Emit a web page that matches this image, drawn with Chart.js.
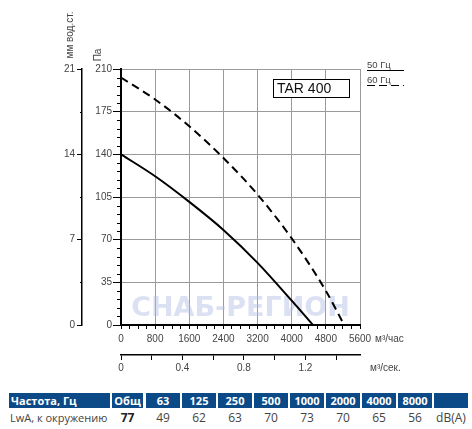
<!DOCTYPE html>
<html>
<head>
<meta charset="utf-8">
<script src="https://cdn.jsdelivr.net/npm/chart.js@4/dist/chart.umd.min.js"></script>
<style>
  body { margin: 0; background: #fff; width: 472px; height: 429px; overflow: hidden; position: relative; }
  .wrap { position: absolute; left: 0; top: 0; width: 472px; height: 385px; }
  .cell { position: absolute; font-family: "Open Sans", sans-serif; white-space: nowrap; text-align: center; }
  .head { top: 393px; height: 15px; line-height: 15px; background: #0b4a86; color: #fff; font-weight: 700; font-size: 11px; }
  .val { top: 408px; height: 19px; line-height: 19px; color: #444; font-size: 12px; }
  .first { text-align: left; padding-left: 2px; box-sizing: border-box; }
  .val.first { font-size: 11px; padding-left: 1px; }
  .total { font-weight: 700; color: #222; }
</style>
</head>
<body>
<div class="wrap"><canvas id="chart" width="472" height="385"></canvas></div>
<div id="noise"></div>
<script>
// fan curves, m3/h -> Pa
const flow50 = [0, 800, 1600, 2400, 3200, 4000, 4500];
const pressure50 = [140, 122, 101, 78, 51, 20, 0];
const flow60 = [0, 800, 1600, 2400, 3200, 4000, 4800, 5230];
const pressure60 = [203, 185, 163, 137, 107, 71, 28, 0];

// axis ranges
const flowMax = 5600;
const flowStep = 800;
const paMax = 210;
const paStep = 35;
const mmMax = 21;
const mmStep = 7;

// sound table
const freqLabels = ["Общ", "63", "125", "250", "500", "1000", "2000", "4000", "8000"];
const soundLevels = [77, 49, 62, 63, 70, 73, 70, 65, 56];
const colWidths = [101, 31, 34, 34, 34, 34, 34, 34, 34, 34, 34];
const colGaps = [0, 2, 3, 2, 2, 2, 2, 2, 2, 2, 2];

const tickFont = { family: "'Liberation Sans', Arial, sans-serif", size: 10 };
const textColor = "#444";

const toPoints = (xs, ys) => xs.map((x, i) => ({ x: x, y: ys[i] }));

const extras = {
  id: "extras",
  beforeDatasetsDraw(chart) {
    const { ctx, chartArea } = chart;
    ctx.save();
    ctx.fillStyle = "rgba(175,188,228,0.45)";
    ctx.font = "bold 27px 'DejaVu Sans', sans-serif";
    ctx.textAlign = "center";
    ctx.textBaseline = "middle";
    ctx.fillText("СНАБ-РЕГИОН", (chartArea.left + chartArea.right) / 2, 309);
    ctx.restore();
  },
  afterDraw(chart) {
    const { ctx, chartArea } = chart;
    const y = chart.scales.y, y2 = chart.scales.y2;
    ctx.save();
    ctx.strokeStyle = "#000";
    ctx.lineWidth = 1;
    // minor ticks Pa
    for (let v = 7; v < paMax; v += 7) {
      if (v % paStep === 0) continue;
      const py = Math.round(y.getPixelForValue(v)) + 0.5;
      ctx.beginPath();
      ctx.moveTo(chartArea.left - 4, py);
      ctx.lineTo(chartArea.left, py);
      ctx.stroke();
    }
    // minor ticks mm
    for (let v = 3.5; v < mmMax; v += 7) {
      const py = Math.round(y2.getPixelForValue(v)) + 0.5;
      ctx.beginPath();
      ctx.moveTo(y2.right - 2, py);
      ctx.lineTo(y2.right, py);
      ctx.stroke();
    }

    ctx.fillStyle = textColor;
    ctx.font = "10px 'Liberation Sans', Arial, sans-serif";
    // rotated axis titles
    ctx.save();
    ctx.translate(70, 35);
    ctx.rotate(-Math.PI / 2);
    ctx.textAlign = "center";
    ctx.textBaseline = "middle";
    ctx.fillText("мм вод.ст.", 0, 0);
    ctx.restore();
    ctx.save();
    ctx.translate(98, 55);
    ctx.rotate(-Math.PI / 2);
    ctx.textAlign = "center";
    ctx.textBaseline = "middle";
    ctx.fillText("Па", 0, 0);
    ctx.restore();

    // units on the flow axes
    ctx.textAlign = "left";
    ctx.textBaseline = "middle";
    ctx.fillText("м³/час", 375, 339);
    ctx.fillText("м³/сек.", 370, 368);

    // legend
    ctx.font = "9.5px 'Liberation Sans', Arial, sans-serif";
    ctx.fillText("50 Гц", 367, 65);
    ctx.fillText("60 Гц", 367, 80);
    ctx.lineWidth = 1;
    ctx.beginPath();
    ctx.moveTo(367, 70.5);
    ctx.lineTo(404, 70.5);
    ctx.stroke();
    ctx.setLineDash([8, 4]);
    ctx.beginPath();
    ctx.moveTo(367, 85.5);
    ctx.lineTo(404, 85.5);
    ctx.stroke();
    ctx.setLineDash([]);

    // model label
    ctx.fillStyle = "#fff";
    ctx.fillRect(273, 79, 76, 18);
    ctx.strokeRect(273.5, 79.5, 76, 18);
    ctx.fillStyle = "#111";
    ctx.font = "14px 'Liberation Sans', Arial, sans-serif";
    ctx.fillText("TAR 400", 277, 89);
    ctx.restore();
  }
};

new Chart(document.getElementById("chart"), {
  type: "line",
  data: {
    datasets: [
      {
        label: "50 Гц",
        data: toPoints(flow50, pressure50),
        borderColor: "#000",
        borderWidth: 2,
        pointRadius: 0,
        cubicInterpolationMode: "monotone",
        xAxisID: "x",
        yAxisID: "y"
      },
      {
        label: "60 Гц",
        data: toPoints(flow60, pressure60),
        borderColor: "#000",
        borderWidth: 2,
        borderDash: [8, 5],
        pointRadius: 0,
        cubicInterpolationMode: "monotone",
        xAxisID: "x",
        yAxisID: "y"
      }
    ]
  },
  options: {
    responsive: false,
    animation: false,
    layout: { padding: { left: 40, top: 69, right: 112, bottom: 5 } },
    plugins: { legend: { display: false }, tooltip: { enabled: false } },
    scales: {
      x: {
        type: "linear", position: "bottom", weight: 0,
        min: 0, max: flowMax,
        border: { color: "#000", width: 2 },
        grid: {
          color: c => (c.tick && c.tick.value % flowStep === 0 ? "#9a9a9a" : "rgba(0,0,0,0)"),
          tickColor: "#000", tickLength: 4, lineWidth: 1
        },
        ticks: {
          stepSize: 200, autoSkip: false, maxRotation: 0, padding: 4,
          color: textColor, font: tickFont,
          callback: v => (v % flowStep === 0 ? String(v) : "")
        },
        afterFit: s => { s.height = 30; }
      },
      x2: {
        type: "linear", position: "bottom", weight: 1,
        min: 0, max: flowMax / 3600,
        border: { color: "#000", width: 1.5 },
        grid: { drawOnChartArea: false, tickColor: "#000", tickLength: 5 },
        ticks: {
          stepSize: 0.2, autoSkip: false, maxRotation: 0, padding: 2, includeBounds: false,
          color: textColor, font: tickFont,
          callback: v => (Math.round(v * 10) % 4 === 0 ? (v === 0 ? "0" : v.toFixed(1)) : "")
        },
        afterFit: s => { s.height = 25; }
      },
      y: {
        type: "linear", position: "left", weight: 0,
        min: 0, max: paMax,
        border: { color: "#000", width: 2 },
        grid: { color: "#9a9a9a", tickColor: "#000", tickLength: 8, lineWidth: 1 },
        ticks: { stepSize: paStep, padding: 1, color: textColor, font: tickFont },
        afterFit: s => { s.width = 39; }
      },
      y2: {
        type: "linear", position: "left", weight: 1,
        min: 0, max: mmMax,
        border: { color: "#000", width: 1.5 },
        grid: { drawOnChartArea: false, tickColor: "#000", tickLength: 5 },
        ticks: { stepSize: mmStep, padding: 2, color: textColor, font: tickFont },
        afterFit: s => { s.width = 42; }
      }
    }
  },
  plugins: [extras]
});

// sound power table
const noise = document.getElementById("noise");
const headTexts = ["Частота, Гц"].concat(freqLabels, [""]);
const valTexts = ["LwA, к окружению"].concat(soundLevels.map(String), ["dB(A)"]);
let left = 9;
colWidths.forEach((w, i) => {
  left += colGaps[i];
  const h = document.createElement("div");
  h.className = "cell head" + (i === 0 ? " first" : "");
  h.style.left = left + "px";
  h.style.width = w + "px";
  h.textContent = headTexts[i];
  noise.appendChild(h);
  const v = document.createElement("div");
  v.className = "cell val" + (i === 0 ? " first" : "") + (i === 1 ? " total" : "");
  v.style.left = left + "px";
  v.style.width = w + "px";
  v.textContent = valTexts[i];
  noise.appendChild(v);
  left += w;
});
</script>
</body>
</html>
